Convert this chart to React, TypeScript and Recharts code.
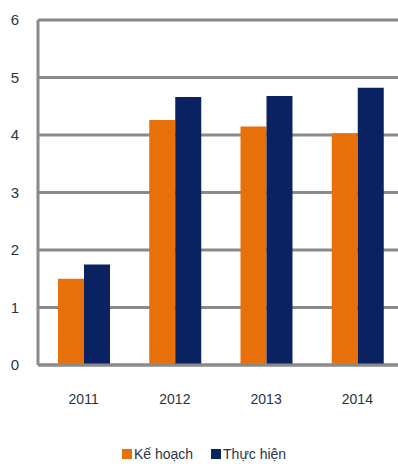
import { Bar, BarChart, CartesianGrid, Legend, XAxis, YAxis } from 'recharts';

const YEARS = ['2011', '2012', '2013', '2014'];
const KE_HOACH = [1.5, 4.26, 4.15, 4.03];
const THUC_HIEN = [1.75, 4.66, 4.68, 4.82];
const Y_TICKS = [0, 1, 2, 3, 4, 5, 6];

const ORANGE = '#E8700A';
const NAVY = '#0B2262';
const GRID = '#8a8a8a';
const TEXT = '#2b3445';

const data = YEARS.map((year, i) => ({ year, keHoach: KE_HOACH[i], thucHien: THUC_HIEN[i] }));

function LegendContent() {
  const items = [
    { label: 'Kế hoạch', color: ORANGE },
    { label: 'Thực hiện', color: NAVY },
  ];
  return (
    <div style={{ display: 'flex', justifyContent: 'center', gap: 18, fontSize: 14, color: TEXT, marginLeft: 10 }}>
      {items.map((it) => (
        <span key={it.label} style={{ display: 'flex', alignItems: 'center' }}>
          <span style={{ width: 10, height: 10, background: it.color, marginRight: 2, display: 'inline-block' }} />
          {it.label}
        </span>
      ))}
    </div>
  );
}

export default function App() {
  return (
    <div
      style={{
        position: 'absolute',
        left: 0,
        top: 0,
        width: 398,
        height: 464,
        overflow: 'hidden',
        background: '#fff',
        fontFamily: '"Liberation Sans", Arial, sans-serif',
      }}
    >
      <BarChart
        width={403}
        height={464}
        data={data}
        margin={{ top: 20, right: 0, left: 0, bottom: 0 }}
        barGap={0}
        barSize={26}
      >
        <CartesianGrid vertical={false} stroke={GRID} strokeWidth={3} />
        <XAxis
          dataKey="year"
          height={83}
          axisLine={{ stroke: GRID, strokeWidth: 3 }}
          tickLine={false}
          tickMargin={23}
          tick={{ fill: TEXT, fontSize: 14 }}
        />
        <YAxis
          width={38}
          domain={[0, 6]}
          ticks={Y_TICKS}
          interval={0}
          axisLine={{ stroke: GRID, strokeWidth: 3 }}
          tickLine={false}
          tickSize={0}
          tickMargin={19}
          tick={{ fill: TEXT, fontSize: 15 }}
        />
        <Legend
          content={<LegendContent />}
          wrapperStyle={{ top: 446, left: 0, width: 398 }}
        />
        <Bar dataKey="keHoach" name="Kế hoạch" fill={ORANGE} isAnimationActive={false} />
        <Bar dataKey="thucHien" name="Thực hiện" fill={NAVY} isAnimationActive={false} />
      </BarChart>
    </div>
  );
}
